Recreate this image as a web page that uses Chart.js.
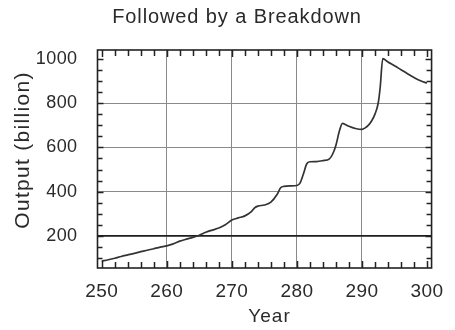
<!DOCTYPE html>
<html><head><meta charset="utf-8">
<script src="https://cdn.jsdelivr.net/npm/chart.js@4/dist/chart.umd.min.js"></script>
<style>html,body{margin:0;padding:0;background:#fff;}#wrap{width:455px;height:330px;}</style>
</head><body><div id="wrap"><canvas id="c" width="455" height="330"></canvas></div>
<script>
const titleText = "Followed by a Breakdown";
const xTitle = "Year";
const yTitle = "Output (billion)";
const years  = [250,251,252,253,254,255,256,257,258,259,260,261,262,263,264,265,266,267,268,269,270,271,272,273,273.5,274,275,276,277,277.5,278,279,280,280.5,281,281.5,282,283,284,285,285.5,286,286.5,287,287.5,288,289,290,290.5,291,291.5,292,292.5,292.8,293.2,294,295,296,297,298,299,300];
const output = [87,93,100,108,115,122,130,136,143,150,156,165,177,186,194,204,217,227,236,251,272,282,291,310,327,335,340,353,390,418,424,426,428,440,480,525,535,536,540,548,570,610,670,708,702,695,685,681,688,700,720,750,800,870,1000,985,968,950,932,915,900,890];
const xTickValues = [250,260,270,280,290,300];
const yTickValues = [200,400,600,800,1000];
const xMinorStep = 2;
const yMinorStep = 50;
const thresholdValue = 200;

const FONT = "'Liberation Sans', Arial, sans-serif";
const TXT = '#2a2a2a';

const spacingPlugin = {
  id: 'spacing',
  beforeDraw(chart) { chart.ctx.letterSpacing = '0.4px'; }
};

const textPlugin = {
  id: 'texts',
  afterDraw(chart) {
    const {ctx, chartArea: a} = chart;
    ctx.save();
    ctx.fillStyle = TXT;
    ctx.textAlign = 'center';
    ctx.textBaseline = 'middle';
    ctx.letterSpacing = '0.9px';
    ctx.font = "20px " + FONT;
    ctx.fillText(titleText, 237, 17);
    ctx.letterSpacing = '1px';
    ctx.font = "19px " + FONT;
    ctx.fillText(xTitle, (a.left + a.right) / 2 + 5, 317);
    ctx.translate(23, (a.top + a.bottom) / 2 - 9);
    ctx.rotate(-Math.PI / 2);
    ctx.letterSpacing = '1.3px';
    ctx.font = "21px " + FONT;
    ctx.fillText(yTitle, 0, 0);
    ctx.restore();
  }
};

const framePlugin = {
  id: 'frame',
  afterDatasetsDraw(chart) {
    const {ctx, chartArea: a, scales: {x, y}} = chart;
    ctx.save();
    ctx.strokeStyle = '#222';
    ctx.lineWidth = 1.5;
    ctx.beginPath();
    for (let v = Math.ceil(x.min / xMinorStep) * xMinorStep; v <= x.max; v += xMinorStep) {
      const px = Math.round(x.getPixelForValue(v)) + 0.5;
      const L = (v % 10 === 0) ? 7 : 6;
      ctx.moveTo(px, a.bottom); ctx.lineTo(px, a.bottom - L);
      ctx.moveTo(px, a.top); ctx.lineTo(px, a.top + L);
    }
    for (let v = Math.ceil(y.min / yMinorStep) * yMinorStep; v <= y.max; v += yMinorStep) {
      const py = Math.round(y.getPixelForValue(v)) + 0.5;
      const L = (v % 200 === 0) ? 6 : 5;
      ctx.moveTo(a.left, py); ctx.lineTo(a.left + L, py);
      ctx.moveTo(a.right, py); ctx.lineTo(a.right - L, py);
    }
    ctx.stroke();
    ctx.lineWidth = 1.6;
    ctx.strokeRect(a.left, a.top, a.right - a.left, a.bottom - a.top);
    ctx.restore();
  }
};

new Chart(document.getElementById('c'), {
  type: 'line',
  data: {
    datasets: [{
      data: years.map((yr, i) => ({x: yr, y: output[i]})),
      borderColor: '#333',
      borderWidth: 1.7,
      pointRadius: 0,
      cubicInterpolationMode: 'monotone',
      fill: false
    }]
  },
  options: {
    responsive: false,
    animation: false,
    layout: {padding: {left: 0, right: 10, top: 50, bottom: 0}},
    plugins: {
      legend: {display: false},
      tooltip: {enabled: false},
      title: {display: false}
    },
    scales: {
      x: {
        type: 'linear', min: 249.35, max: 300.7,
        afterBuildTicks: s => { s.ticks = xTickValues.map(v => ({value: v})); },
        afterFit: s => { s.height = 62; },
        ticks: {color: TXT, font: {family: FONT, size: 19}, padding: 12, maxRotation: 0, callback: v => String(v)},
        grid: {
          drawTicks: false,
          color: c => (c.tick && (c.tick.value === 250 || c.tick.value === 300)) ? 'rgba(0,0,0,0)' : '#8a8a8a',
          lineWidth: 1
        },
        border: {display: false},
        title: {display: false}
      },
      y: {
        type: 'linear', min: 56, max: 1039,
        afterBuildTicks: s => { s.ticks = yTickValues.map(v => ({value: v})); },
        afterFit: s => { s.width = 97.5; },
        ticks: {color: TXT, font: {family: FONT, size: 18}, padding: 20, callback: v => String(v)},
        grid: {
          drawTicks: false,
          color: c => {
            if (!c.tick) return '#8a8a8a';
            if (c.tick.value === thresholdValue) return '#1e1e1e';
            if (c.tick.value === 1000) return 'rgba(0,0,0,0)';
            return '#8a8a8a';
          },
          lineWidth: c => (c.tick && c.tick.value === thresholdValue) ? 1.8 : 1
        },
        border: {display: false},
        title: {display: false}
      }
    }
  },
  plugins: [spacingPlugin, framePlugin, textPlugin]
});
</script>
</body></html>
